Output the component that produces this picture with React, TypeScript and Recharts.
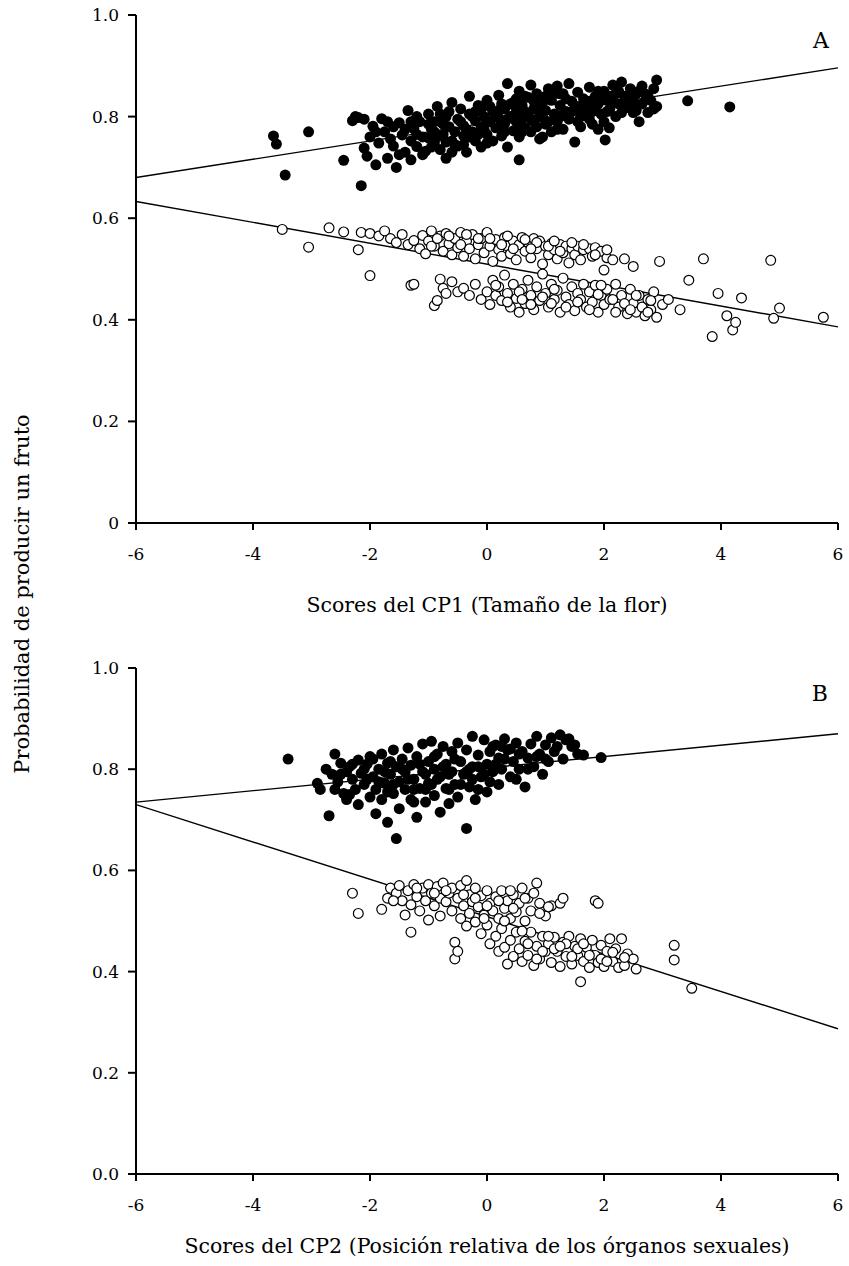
import React from 'react';
import { ScatterChart, Scatter, XAxis, YAxis } from 'recharts';

const xTicks = [-6, -4, -2, 0, 2, 4, 6];
const xTickLabels = ['-6', '-4', '-2', '0', '2', '4', '6'];
const yTicks = [0, 0.2, 0.4, 0.6, 0.8, 1.0];
const yTickLabelsA = ['0', '0.2', '0.4', '0.6', '0.8', '1.0'];
const yTickLabelsB = ['0.0', '0.2', '0.4', '0.6', '0.8', '1.0'];

const xTitleA = 'Scores del CP1 (Tamaño de la flor)';
const xTitleB = 'Scores del CP2 (Posición relativa de los órganos sexuales)';
const yTitle = 'Probabilidad de producir un fruto';

// Panel A, filled circles
const blackA: number[][] = [
  [-3.65,0.762],[-3.6,0.746],[-3.45,0.685],[-3.05,0.770],[-2.45,0.714],[-2.3,0.792],[-2.25,0.800],[-2.2,0.798],
  [-2.15,0.664],[-2.1,0.738],[-2.05,0.722],[-2.0,0.760],[-1.95,0.781],[-1.9,0.705],[-1.85,0.748],[-1.8,0.796],
  [-1.75,0.770],[-1.7,0.718],[-1.65,0.756],[-1.6,0.742],[-1.55,0.700],[-1.5,0.788],[-1.45,0.764],[-1.4,0.730],
  [-1.35,0.812],[-1.3,0.752],[-1.25,0.776],[-1.2,0.741],[-1.15,0.790],[-1.1,0.760],[-1.05,0.732],[-1.0,0.805],
  [-0.95,0.776],[-0.9,0.748],[-0.85,0.820],[-0.8,0.735],[-0.8,0.790],[-0.75,0.765],[-0.7,0.800],[-0.7,0.718],
  [-0.65,0.780],[-0.6,0.752],[-0.6,0.828],[-0.55,0.770],[-0.5,0.795],[-0.5,0.742],[-0.45,0.815],[-0.4,0.762],
  [-0.4,0.782],[-0.35,0.730],[-0.3,0.805],[-0.3,0.840],[-0.25,0.770],[-0.2,0.792],[-0.2,0.752],[-0.15,0.822],
  [-0.1,0.780],[-0.1,0.740],[-0.05,0.800],[0.0,0.832],[0.0,0.765],[0.05,0.790],[0.1,0.810],[0.1,0.752],
  [0.15,0.778],[0.2,0.842],[0.2,0.798],[0.25,0.762],[0.3,0.815],[0.3,0.785],[0.35,0.865],[0.35,0.740],
  [0.4,0.800],[0.45,0.828],[0.45,0.772],[0.5,0.810],[0.5,0.790],[0.55,0.850],[0.55,0.760],[0.6,0.822],
  [0.6,0.795],[0.65,0.778],[0.7,0.838],[0.7,0.805],[0.75,0.862],[0.75,0.770],[0.8,0.815],[0.8,0.790],
  [0.85,0.845],[0.9,0.800],[0.9,0.756],[0.95,0.828],[1.0,0.812],[1.0,0.785],[1.05,0.855],[1.1,0.770],
  [1.1,0.832],[1.15,0.805],[1.2,0.860],[1.2,0.790],[1.25,0.822],[1.3,0.845],[1.3,0.775],[1.35,0.810],
  [1.4,0.865],[1.4,0.795],[1.45,0.830],[1.5,0.750],[1.5,0.815],[1.55,0.848],[1.6,0.800],[1.6,0.780],
  [1.65,0.835],[1.7,0.820],[1.75,0.858],[1.75,0.795],[1.8,0.810],[1.85,0.840],[1.9,0.775],[1.9,0.825],
  [1.95,0.805],[2.0,0.850],[2.0,0.790],[2.02,0.754],[2.09,0.778],[2.05,0.832],[2.1,0.815],[2.15,0.862],
  [2.2,0.800],[2.2,0.845],[2.25,0.825],[2.3,0.868],[2.3,0.808],[2.35,0.840],[2.4,0.818],[2.45,0.855],
  [2.5,0.830],[2.55,0.812],[2.6,0.790],[2.65,0.825],[2.7,0.845],[2.75,0.808],[2.8,0.832],[2.85,0.855],
  [2.9,0.872],[2.9,0.820],[3.43,0.831],[4.15,0.819],
  [-1.5,0.725],[-1.3,0.715],[-1.0,0.758],[-0.9,0.770],[-0.6,0.730],[-0.3,0.760],[0.0,0.748],[0.25,0.785],
  [0.55,0.715],[0.65,0.840],[0.95,0.760],[1.25,0.845],[1.55,0.820],[1.8,0.785],[2.1,0.840],[2.4,0.840],
  [2.6,0.850],[1.0,0.840],[0.4,0.825],[-0.2,0.810],[-0.8,0.805],[-1.2,0.765],[-1.6,0.780],[-2.1,0.795],[-1.9,0.770],
  [-1.4,0.775],[-1.2,0.800],[-1.1,0.725],[-0.95,0.740],[-0.85,0.760],[-0.75,0.785],[-0.65,0.810],[-0.55,0.745],
  [-0.45,0.790],[-0.35,0.775],[-0.25,0.800],[-0.15,0.765],[-0.05,0.775],[0.05,0.820],[0.15,0.800],[0.25,0.825],
  [0.35,0.795],[0.45,0.800],[0.55,0.785],[0.65,0.810],[0.75,0.795],[0.85,0.780],[0.95,0.800],[1.05,0.790],
  [1.15,0.845],[1.25,0.800],[1.35,0.835],[1.45,0.810],[1.55,0.790],[1.65,0.812],[1.75,0.830],[1.85,0.815],
  [1.95,0.835],[2.05,0.810],[2.15,0.830],[2.25,0.850],[2.35,0.822],[2.45,0.835],[2.55,0.845],[2.65,0.860],
  [2.75,0.840],[2.85,0.815],[0.3,0.770],[0.6,0.770],[0.9,0.815],[1.2,0.775],[-0.7,0.750],[-1.0,0.785],
  [-1.7,0.790],[-1.3,0.790],[0.0,0.790],[0.5,0.835],[1.7,0.805],[2.5,0.808],[-0.9,0.790],[-0.4,0.745],
  [0.8,0.830],[1.9,0.850],[-0.1,0.815],[0.2,0.812],
];

// Panel A, open circles
const whiteA: number[][] = [
  [-3.5,0.578],[-3.05,0.543],[-2.7,0.581],[-2.45,0.573],[-2.2,0.538],[-2.15,0.572],[-2.0,0.487],[-2.0,0.570],
  [-1.85,0.565],[-1.75,0.575],[-1.65,0.560],[-1.55,0.552],[-1.45,0.568],[-1.35,0.548],[-1.3,0.468],[-1.25,0.470],
  [-1.25,0.556],[-1.15,0.540],[-1.1,0.566],[-1.05,0.530],[-1.0,0.555],[-0.95,0.575],[-0.9,0.545],[-0.9,0.428],
  [-0.85,0.438],[-0.8,0.565],[-0.8,0.480],[-0.75,0.535],[-0.75,0.462],[-0.7,0.570],[-0.7,0.452],[-0.65,0.550],
  [-0.6,0.528],[-0.6,0.475],[-0.55,0.560],[-0.5,0.542],[-0.5,0.455],[-0.45,0.572],[-0.4,0.525],[-0.4,0.462],
  [-0.35,0.555],[-0.3,0.540],[-0.3,0.448],[-0.25,0.568],[-0.2,0.520],[-0.2,0.470],[-0.15,0.548],[-0.1,0.560],
  [-0.1,0.440],[-0.05,0.532],[0.0,0.572],[0.0,0.455],[0.05,0.545],[0.05,0.430],[0.1,0.515],[0.1,0.478],
  [0.15,0.558],[0.15,0.448],[0.2,0.538],[0.2,0.465],[0.25,0.525],[0.25,0.438],[0.3,0.562],[0.3,0.488],
  [0.35,0.545],[0.35,0.452],[0.4,0.530],[0.4,0.425],[0.45,0.555],[0.45,0.470],[0.5,0.518],[0.5,0.442],
  [0.55,0.548],[0.55,0.415],[0.6,0.562],[0.6,0.460],[0.65,0.535],[0.65,0.432],[0.7,0.552],[0.7,0.478],
  [0.75,0.522],[0.75,0.448],[0.8,0.560],[0.8,0.420],[0.85,0.540],[0.85,0.465],[0.9,0.555],[0.9,0.438],
  [0.95,0.510],[0.95,0.490],[1.0,0.545],[1.0,0.452],[1.05,0.528],[1.05,0.425],[1.1,0.550],[1.1,0.470],
  [1.15,0.538],[1.15,0.440],[1.2,0.520],[1.2,0.458],[1.25,0.548],[1.25,0.415],[1.3,0.532],[1.3,0.482],
  [1.35,0.545],[1.35,0.445],[1.4,0.512],[1.4,0.430],[1.45,0.540],[1.45,0.465],[1.5,0.528],[1.5,0.418],
  [1.55,0.545],[1.55,0.452],[1.6,0.518],[1.6,0.440],[1.65,0.538],[1.65,0.470],[1.7,0.425],[1.75,0.540],
  [1.75,0.455],[1.8,0.525],[1.8,0.435],[1.85,0.542],[1.85,0.468],[1.9,0.415],[1.95,0.535],[1.95,0.448],
  [2.0,0.498],[2.0,0.430],[2.05,0.522],[2.05,0.460],[2.1,0.440],[2.15,0.518],[2.2,0.470],[2.25,0.425],
  [2.3,0.448],[2.35,0.520],[2.4,0.412],[2.45,0.460],[2.5,0.432],[2.5,0.505],[2.55,0.415],[2.6,0.448],
  [2.65,0.425],[2.7,0.408],[2.75,0.440],[2.8,0.420],[2.85,0.455],[2.9,0.405],[2.95,0.515],[3.0,0.430],
  [3.1,0.440],[3.3,0.420],[3.45,0.478],[3.7,0.520],[3.85,0.367],[3.95,0.452],[4.1,0.408],[4.2,0.380],
  [4.25,0.395],[4.35,0.443],[4.85,0.517],[4.9,0.403],[5.0,0.423],[5.75,0.405],
  [-0.95,0.545],[-0.85,0.560],[-0.65,0.565],[-0.45,0.548],[-0.35,0.568],[-0.15,0.560],[0.05,0.560],[0.25,0.548],
  [0.45,0.540],[0.65,0.558],[0.85,0.552],[1.05,0.545],[1.25,0.535],[1.45,0.552],[1.65,0.548],[1.85,0.528],
  [2.05,0.538],[0.35,0.565],[0.75,0.540],[1.15,0.555],
  [0.15,0.468],[0.35,0.435],[0.55,0.455],[0.75,0.430],[0.95,0.445],[1.15,0.460],[1.35,0.425],[1.55,0.435],
  [1.75,0.420],[1.95,0.468],[2.15,0.440],[2.35,0.432],[2.55,0.448],[2.75,0.415],[2.45,0.420],[1.1,0.432],
  [0.6,0.440],[2.2,0.415],[1.9,0.450],[2.8,0.438],
];

// Panel B, filled circles
const blackB: number[][] = [
  [-3.4,0.820],[-2.9,0.772],[-2.85,0.760],[-2.75,0.800],[-2.7,0.708],[-2.65,0.790],[-2.6,0.830],[-2.55,0.775],
  [-2.5,0.812],[-2.45,0.752],[-2.4,0.795],[-2.4,0.740],[-2.35,0.805],[-2.3,0.780],[-2.25,0.760],[-2.2,0.818],
  [-2.2,0.730],[-2.15,0.792],[-2.1,0.770],[-2.05,0.810],[-2.0,0.745],[-2.0,0.825],[-1.95,0.785],[-1.9,0.760],
  [-1.9,0.712],[-1.85,0.800],[-1.8,0.830],[-1.8,0.740],[-1.75,0.772],[-1.7,0.812],[-1.7,0.695],[-1.65,0.790],
  [-1.6,0.752],[-1.6,0.838],[-1.55,0.663],[-1.55,0.805],[-1.5,0.775],[-1.5,0.722],[-1.45,0.820],[-1.4,0.760],
  [-1.4,0.795],[-1.35,0.842],[-1.3,0.740],[-1.3,0.808],[-1.25,0.780],[-1.2,0.825],[-1.2,0.705],[-1.15,0.762],
  [-1.1,0.850],[-1.1,0.795],[-1.05,0.735],[-1.0,0.815],[-1.0,0.772],[-0.95,0.855],[-0.9,0.748],[-0.9,0.800],
  [-0.85,0.830],[-0.8,0.715],[-0.8,0.785],[-0.75,0.845],[-0.7,0.762],[-0.7,0.810],[-0.65,0.732],[-0.6,0.835],
  [-0.6,0.795],[-0.55,0.770],[-0.5,0.852],[-0.5,0.745],[-0.45,0.815],[-0.4,0.790],[-0.35,0.683],[-0.35,0.838],
  [-0.3,0.765],[-0.25,0.865],[-0.25,0.805],[-0.2,0.740],[-0.15,0.828],[-0.1,0.785],[-0.05,0.858],[0.0,0.810],
  [0.0,0.755],[0.05,0.835],[0.1,0.795],[0.15,0.848],[0.2,0.770],[0.2,0.822],[0.25,0.800],[0.3,0.860],
  [0.35,0.838],[0.4,0.785],[0.45,0.815],[0.5,0.852],[0.55,0.800],[0.6,0.835],[0.65,0.765],[0.7,0.822],
  [0.75,0.850],[0.8,0.805],[0.85,0.865],[0.9,0.830],[0.95,0.790],[1.0,0.848],[1.05,0.815],[1.1,0.862],
  [1.15,0.835],[1.25,0.868],[1.3,0.820],[1.35,0.858],[1.45,0.845],[1.55,0.830],[1.65,0.828],[1.95,0.823],
  [-2.05,0.780],[-1.25,0.735],[-0.55,0.820],[0.1,0.845],[-1.65,0.815],[-0.95,0.770],[-0.3,0.800],
  [-2.5,0.790],[-2.3,0.810],[-2.1,0.800],[-1.95,0.820],[-1.85,0.775],[-1.75,0.795],[-1.6,0.770],[-1.45,0.800],
  [-1.35,0.780],[-1.15,0.810],[-1.05,0.790],[-0.85,0.780],[-0.75,0.805],[-0.65,0.790],[-0.45,0.770],[-0.35,0.795],
  [-0.15,0.805],[-0.05,0.790],[0.05,0.775],[0.15,0.810],[0.3,0.820],[0.4,0.840],[0.55,0.830],[0.7,0.800],
  [0.85,0.825],[1.0,0.820],[1.2,0.845],[1.4,0.860],[1.5,0.848],[-2.6,0.760],[-2.35,0.750],[-1.25,0.760],
  [-0.65,0.760],[-0.25,0.780],[0.5,0.780],[-1.05,0.760],[-1.7,0.755],[-0.9,0.825],[-0.15,0.760],[0.25,0.845],
];

// Panel B, open circles
const whiteB: number[][] = [
  [-2.3,0.555],[-2.2,0.515],[-1.8,0.523],[-1.7,0.545],[-1.65,0.565],[-1.55,0.555],[-1.5,0.570],[-1.45,0.540],
  [-1.4,0.512],[-1.35,0.560],[-1.3,0.478],[-1.3,0.532],[-1.25,0.572],[-1.2,0.548],[-1.15,0.520],[-1.1,0.565],
  [-1.05,0.540],[-1.0,0.572],[-1.0,0.502],[-0.95,0.555],[-0.9,0.530],[-0.85,0.568],[-0.8,0.545],[-0.8,0.510],
  [-0.75,0.575],[-0.7,0.538],[-0.65,0.555],[-0.6,0.520],[-0.6,0.565],[-0.55,0.425],[-0.55,0.458],[-0.5,0.440],
  [-0.5,0.545],[-0.45,0.505],[-0.45,0.570],[-0.4,0.530],[-0.35,0.580],[-0.35,0.490],[-0.3,0.552],[-0.3,0.515],
  [-0.25,0.538],[-0.2,0.565],[-0.2,0.498],[-0.15,0.528],[-0.1,0.550],[-0.1,0.475],[-0.05,0.512],[0.0,0.560],
  [0.0,0.492],[0.05,0.535],[0.05,0.455],[0.1,0.520],[0.15,0.548],[0.15,0.470],[0.2,0.505],[0.2,0.440],
  [0.25,0.560],[0.25,0.485],[0.3,0.525],[0.3,0.448],[0.35,0.540],[0.35,0.415],[0.4,0.505],[0.4,0.462],
  [0.45,0.552],[0.45,0.430],[0.5,0.518],[0.5,0.478],[0.55,0.535],[0.55,0.445],[0.6,0.565],[0.6,0.420],
  [0.65,0.500],[0.65,0.460],[0.7,0.545],[0.7,0.432],[0.75,0.520],[0.75,0.478],[0.8,0.412],[0.8,0.555],
  [0.85,0.450],[0.9,0.535],[0.9,0.425],[0.95,0.470],[1.0,0.510],[1.0,0.440],[1.05,0.455],[1.1,0.530],
  [1.1,0.418],[1.15,0.468],[1.2,0.440],[1.25,0.535],[1.25,0.410],[1.3,0.458],[1.35,0.430],[1.4,0.470],
  [1.45,0.415],[1.5,0.450],[1.55,0.432],[1.6,0.380],[1.6,0.465],[1.65,0.420],[1.7,0.448],[1.75,0.408],
  [1.8,0.462],[1.85,0.540],[1.85,0.432],[1.9,0.535],[1.9,0.418],[1.95,0.452],[2.0,0.410],[2.05,0.440],
  [2.1,0.465],[2.15,0.420],[2.2,0.445],[2.25,0.408],[2.3,0.465],[2.35,0.412],[2.4,0.435],[2.5,0.425],
  [2.55,0.405],[3.2,0.452],[3.2,0.423],[3.5,0.367],[0.85,0.575],[1.3,0.545],[0.4,0.560],
  [-1.6,0.540],[-1.2,0.565],[-0.9,0.555],[-0.7,0.560],[-0.4,0.552],[-0.2,0.545],[0.0,0.530],[0.2,0.540],
  [0.45,0.525],[0.65,0.545],[0.9,0.515],[1.05,0.528],[0.3,0.500],[-0.05,0.505],[0.6,0.480],[0.95,0.440],
  [1.15,0.445],[1.35,0.455],[1.55,0.445],[1.75,0.432],[1.95,0.425],[2.15,0.438],[2.35,0.428],[1.45,0.430],
  [1.05,0.470],[0.7,0.455],[0.85,0.425],[1.65,0.455],[2.05,0.420],[1.25,0.450],
];

// fitted regression lines (endpoints at the axis limits)
const fitBlackA: number[][] = [[-6, 0.680], [6, 0.896]];
const fitWhiteA: number[][] = [[-6, 0.633], [6, 0.386]];
const fitBlackB: number[][] = [[-6, 0.735], [6, 0.870]];
const fitWhiteB: number[][] = [[-6, 0.730], [6, 0.287]];

const FONT = '"DejaVu Serif", serif';
const toObj = (arr: number[][]) => arr.map(([x, y]) => ({ x, y }));

const BlackDot = (p: any) => <circle cx={p.cx} cy={p.cy} r={5.5} fill="#000" />;
const WhiteDot = (p: any) => (
  <circle cx={p.cx} cy={p.cy} r={4.9} fill="#fff" stroke="#000" strokeWidth={1.2} />
);
const NoDot = () => <g />;

type PanelProps = {
  black: number[][];
  white: number[][];
  fitBlack: number[][];
  fitWhite: number[][];
  yLabels: string[];
  xTitle: string;
  height: number;
  marginTop: number;
  marginBottom: number;
  xAxisHeight: number;
  titleOffset: number;
};

function Panel(props: PanelProps) {
  const tickStyle = { fontFamily: FONT, fontSize: 17, fill: '#000' };
  return (
    <ScatterChart
      width={849}
      height={props.height}
      margin={{ top: props.marginTop, right: 11, bottom: props.marginBottom, left: 0 }}
    >
      <XAxis
        type="number"
        dataKey="x"
        domain={[-6, 6]}
        ticks={xTicks}
        tickFormatter={(v: number) => xTickLabels[xTicks.indexOf(v)] ?? String(v)}
        allowDataOverflow
        height={props.xAxisHeight}
        axisLine={{ stroke: '#000', strokeWidth: 2 }}
        tickLine={{ stroke: '#000', strokeWidth: 2 }}
        tickSize={7}
        tickMargin={18}
        tick={tickStyle}
        label={{
          value: props.xTitle,
          position: 'insideBottom',
          offset: props.titleOffset,
          style: { fontFamily: FONT, fontSize: 20.5, fill: '#000', textAnchor: 'middle' },
        }}
      />
      <YAxis
        type="number"
        dataKey="y"
        domain={[0, 1]}
        ticks={yTicks}
        tickFormatter={(v: number) => props.yLabels[yTicks.indexOf(v)] ?? String(v)}
        allowDataOverflow
        width={136}
        axisLine={{ stroke: '#000', strokeWidth: 2 }}
        tickLine={{ stroke: '#000', strokeWidth: 2 }}
        tickSize={8}
        tickMargin={9}
        tick={tickStyle}
      />
      <XAxis
        xAxisId="top"
        orientation="top"
        type="number"
        domain={[-6, 6]}
        height={0}
        tick={false}
        tickLine={false}
        axisLine={{ stroke: '#000', strokeWidth: 2 }}
      />
      <YAxis
        yAxisId="right"
        orientation="right"
        type="number"
        domain={[0, 1]}
        width={0}
        tick={false}
        tickLine={false}
        axisLine={{ stroke: '#000', strokeWidth: 2 }}
      />
      <Scatter
        data={toObj(props.fitBlack)}
        line={{ stroke: '#000', strokeWidth: 1.4 }}
        shape={NoDot}
        isAnimationActive={false}
      />
      <Scatter
        data={toObj(props.fitWhite)}
        line={{ stroke: '#000', strokeWidth: 1.4 }}
        shape={NoDot}
        isAnimationActive={false}
      />
      <Scatter data={toObj(props.black)} shape={BlackDot} isAnimationActive={false} />
      <Scatter data={toObj(props.white)} shape={WhiteDot} isAnimationActive={false} />
    </ScatterChart>
  );
}

export default function App() {
  return (
    <div style={{ position: 'absolute', left: 0, top: 0, width: 849, height: 1266, background: '#fff' }}>
      <div style={{ position: 'absolute', left: 0, top: 0 }}>
        <Panel
          black={blackA}
          white={whiteA}
          fitBlack={fitBlackA}
          fitWhite={fitWhiteA}
          yLabels={yTickLabelsA}
          xTitle={xTitleA}
          height={640}
          marginTop={15}
          marginBottom={17}
          xAxisHeight={100}
          titleOffset={11}
        />
      </div>
      <div style={{ position: 'absolute', left: 0, top: 640 }}>
        <Panel
          black={blackB}
          white={whiteB}
          fitBlack={fitBlackB}
          fitWhite={fitWhiteB}
          yLabels={yTickLabelsB}
          xTitle={xTitleB}
          height={626}
          marginTop={28}
          marginBottom={2}
          xAxisHeight={90}
          titleOffset={11}
        />
      </div>
      <svg
        width={849}
        height={1266}
        style={{ position: 'absolute', left: 0, top: 0, pointerEvents: 'none' }}
      >
        <text
          x={0}
          y={0}
          transform="translate(29,594) rotate(-90)"
          textAnchor="middle"
          style={{ fontFamily: FONT, fontSize: 21, fill: '#000' }}
        >
          {yTitle}
        </text>
        <text x={829} y={48} textAnchor="end" style={{ fontFamily: FONT, fontSize: 22, fill: '#000' }}>
          A
        </text>
        <text x={828} y={701} textAnchor="end" style={{ fontFamily: FONT, fontSize: 22, fill: '#000' }}>
          B
        </text>
      </svg>
    </div>
  );
}
